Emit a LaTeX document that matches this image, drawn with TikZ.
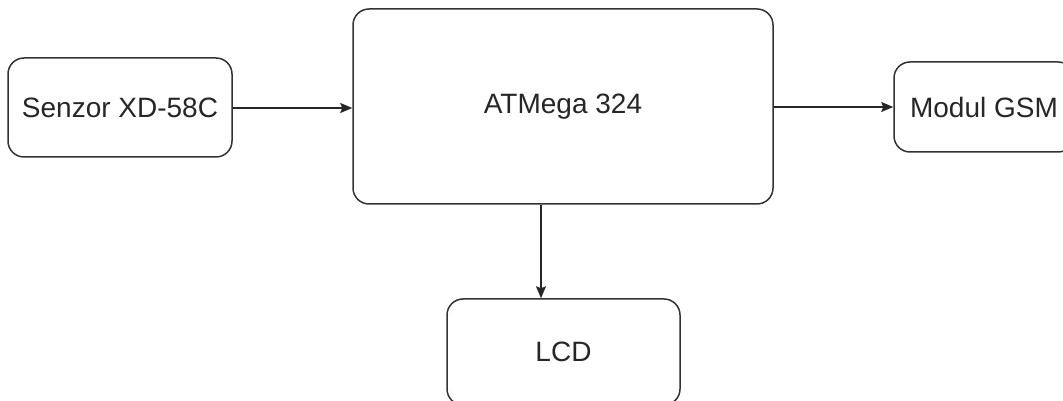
\documentclass[tikz,border=0pt]{standalone}
\usepackage{fontspec}
\setmainfont{Liberation Sans}
\usepackage{tikz}
\usetikzlibrary{arrows.meta}

\begin{document}
\begin{tikzpicture}[
    x=1pt, y=1pt,
    box/.style={rectangle, rounded corners=16pt, draw=black!80, line width=1.5pt, fill=white, align=center, font=\fontsize{28}{34}\selectfont, text=black!85, inner sep=0pt},
    arrow/.style={-{Stealth[length=12pt, width=10pt, inset=2pt]}, line width=1.5pt, draw=black!85}
]
\useasboundingbox (0,0) rectangle (1063,401);
\clip (0,0) rectangle (1063,401);

\node[box, minimum width=224pt, minimum height=99pt] (senzor) at (120,293.5) {Senzor XD-58C};
\node[box, minimum width=420pt, minimum height=195pt] (atmega) at (563,294.5) {ATMega 324};
\node[box, minimum width=180pt, minimum height=90pt] (gsm) at (984,294) {Modul GSM};
\node[box, minimum width=233pt, minimum height=106pt] (lcd) at (563.5,49) {LCD};

\draw[arrow] ([yshift=-0.5pt]senzor.east) -- ([yshift=-0.5pt]senzor.east -| atmega.west);
\draw[arrow] (atmega.east |- gsm.west) -- (gsm.west);
\draw[arrow] ([xshift=-22pt]atmega.south) -- ([xshift=-22pt]atmega.south |- lcd.north);

\end{tikzpicture}
\end{document}
